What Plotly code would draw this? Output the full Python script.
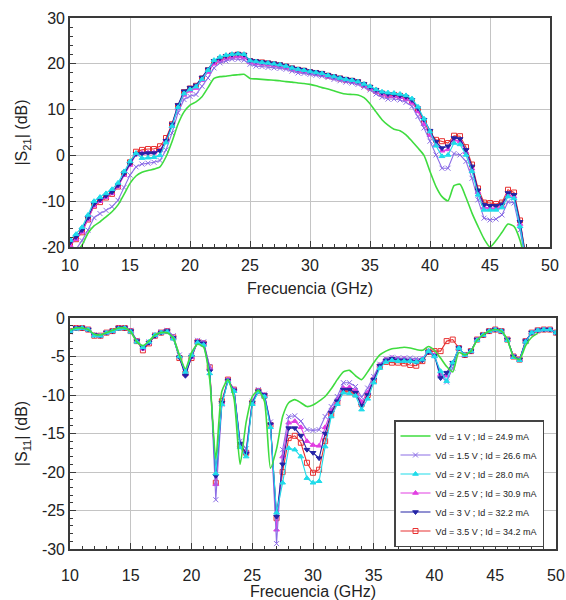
import plotly.graph_objects as go

# colours
green_col = "#3fdc3f"
purple_col = "#8c6ee6"
cyan_col = "#1fdcea"
magenta_col = "#e23ee2"
blue_col = "#2424a6"
red_col = "#e83232"

labels = [
    "Vd = 1 V ; Id = 24.9 mA",
    "Vd = 1.5 V ; Id = 26.6 mA",
    "Vd = 2 V ; Id = 28.0 mA",
    "Vd = 2.5 V ; Id = 30.9 mA",
    "Vd = 3 V ; Id = 32.2 mA",
    "Vd = 3.5 V ; Id = 34.2 mA",
]

# |S21| (dB), 10 - 48 GHz
freq_s21 = [
    10, 10.5, 11, 11.5, 12, 12.5, 13, 13.5, 14, 14.5,
    15, 15.5, 16, 16.5, 17, 17.5, 18, 18.5, 19, 19.5,
    20, 20.5, 21, 21.5, 22, 22.5, 23, 23.5, 24, 24.5,
    25, 25.5, 26, 26.5, 27, 27.5, 28, 28.5, 29, 29.5,
    30, 30.5, 31, 31.5, 32, 32.5, 33, 33.5, 34, 34.5,
    35, 35.5, 36, 36.5, 37, 37.5, 38, 38.5, 39, 39.5,
    40, 40.5, 41, 41.5, 42, 42.5, 43, 43.5, 44, 44.5,
    45, 45.5, 46, 46.5, 47, 47.5, 48,
]
s21_1v = [
    -24.0, -21.5, -19.6, -17.0, -15.4, -14.5, -13.4, -12.3, -10.8, -8.5,
    -6.1, -4.5, -3.7, -3.3, -3.0, -2.5, -0.3, 3.0, 6.8, 9.5,
    11.0, 11.7, 12.8, 14.8, 16.8, 17.2, 17.3, 17.5, 17.6, 17.7,
    16.8, 16.7, 16.6, 16.5, 16.4, 16.3, 16.1, 16.0, 15.8, 15.7,
    15.5, 15.2, 14.8, 14.5, 14.1, 13.7, 13.4, 13.3, 13.2, 12.6,
    11.3, 9.5, 7.8, 6.6, 5.7, 5.4, 4.5, 3.1, 1.6, 0.0,
    -3.5, -6.8, -9.0, -9.9, -6.6, -6.3, -9.2, -12.6, -15.5, -18.2,
    -20.0, -18.6, -16.8, -15.0, -15.5, -18.5, -24.0,
]
s21_15v = [
    -22.0, -20.5, -18.6, -16.3, -13.6, -12.7, -12.0, -11.2, -9.8, -7.0,
    -4.3, -2.5, -1.9, -1.7, -1.5, -1.1, 1.2, 4.9, 9.3, 12.2,
    12.9, 13.3, 15.1, 16.9, 19.1, 20.2, 20.6, 21.0, 21.0, 20.8,
    19.9, 19.5, 19.4, 19.2, 19.1, 19.0, 18.8, 18.4, 18.0, 17.9,
    17.7, 17.5, 17.3, 17.0, 16.6, 16.3, 16.0, 15.8, 15.5, 14.9,
    14.3, 13.4, 12.7, 12.3, 12.3, 12.1, 11.6, 10.7, 8.5, 6.0,
    3.1, 0.1, -2.8, -2.8, 0.4, 0.1, -1.3, -5.0, -9.7, -13.7,
    -14.1, -13.9, -13.0, -10.1, -10.4, -16.3, -23.5,
]
s21_2v = [
    -18.5, -17.2, -15.7, -13.0, -10.0, -9.1, -8.3, -7.4, -6.0, -3.5,
    -1.3, 0.5, -0.6, -0.5, -0.4, 0.0, 2.8, 6.4, 10.5, 13.5,
    14.4, 15.0, 16.6, 18.6, 20.8, 21.5, 21.9, 22.1, 22.2, 22.1,
    20.7, 20.5, 20.3, 20.2, 20.0, 19.8, 19.5, 19.1, 18.8, 18.6,
    18.3, 18.1, 17.9, 17.5, 17.2, 16.9, 16.6, 16.4, 16.1, 15.6,
    15.1, 14.4, 13.9, 13.7, 13.6, 13.4, 13.1, 12.4, 10.6, 8.0,
    5.2, 2.1, -0.2, 0.1, 2.7, 2.4, 0.1, -3.5, -8.6, -11.9,
    -11.9, -11.9, -11.4, -9.0, -9.4, -15.5, -23.0,
]
s21_25v = [
    -19.6, -18.3, -16.7, -14.0, -11.0, -10.0, -9.1, -8.3, -6.8, -4.3,
    -2.1, 0.2, 0.5, 0.6, 0.6, 1.1, 3.2, 6.4, 10.3, 13.2,
    14.1, 14.7, 16.4, 18.2, 20.0, 20.6, 21.1, 21.4, 21.6, 21.4,
    20.3, 20.1, 20.0, 19.9, 19.7, 19.5, 19.2, 18.8, 18.5, 18.3,
    18.0, 17.8, 17.6, 17.2, 16.9, 16.6, 16.3, 16.1, 15.8, 15.2,
    14.6, 13.9, 13.3, 13.0, 12.9, 12.7, 12.3, 11.5, 9.6, 6.8,
    4.4, 2.4, 1.0, 1.3, 3.4, 3.1, 0.7, -2.9, -8.0, -11.3,
    -11.5, -11.5, -11.1, -8.6, -9.0, -15.0, -22.8,
]
s21_3v = [
    -19.0, -17.8, -16.3, -13.6, -10.6, -9.7, -8.8, -8.0, -6.5, -4.0,
    -1.8, 0.3, 0.4, 0.5, 0.5, 1.0, 3.2, 6.8, 11.0, 14.0,
    14.8, 15.3, 17.0, 18.8, 20.6, 21.2, 21.7, 22.0, 22.2, 22.0,
    20.8, 20.6, 20.4, 20.3, 20.1, 19.9, 19.6, 19.2, 18.9, 18.7,
    18.4, 18.2, 18.0, 17.6, 17.3, 17.0, 16.7, 16.5, 16.2, 15.6,
    15.0, 14.3, 13.7, 13.4, 13.3, 13.1, 12.8, 12.1, 10.3, 7.8,
    5.4, 3.0, 1.6, 2.0, 3.8, 3.6, 1.2, -2.4, -7.6, -10.8,
    -11.0, -11.0, -10.7, -8.2, -8.6, -14.5, -22.5,
]
s21_35v = [
    -19.5, -18.3, -16.8, -14.0, -11.0, -10.2, -9.2, -8.4, -6.8, -4.0,
    -1.5, 0.8, 1.2, 1.4, 1.4, 2.0, 3.8, 6.8, 10.8, 13.8,
    14.6, 15.2, 16.8, 18.6, 20.4, 21.0, 21.5, 21.8, 22.0, 21.8,
    20.6, 20.4, 20.3, 20.1, 19.9, 19.7, 19.4, 19.0, 18.7, 18.5,
    18.2, 18.0, 17.8, 17.4, 17.1, 16.8, 16.5, 16.3, 16.0, 15.4,
    14.8, 14.1, 13.5, 13.2, 13.2, 13.0, 12.6, 11.8, 10.0, 7.3,
    5.0, 3.4, 3.1, 2.7, 4.3, 4.2, 1.8, -2.0, -7.2, -10.3,
    -10.4, -10.6, -10.3, -7.5, -8.1, -14.2, -22.3,
]

# |S11| (dB), 10 - 50 GHz
freq_s11 = [
    10, 10.5, 11, 11.5, 12, 12.5, 13, 13.5, 14, 14.5,
    15, 15.5, 16, 16.5, 17, 17.5, 18, 18.5, 19, 19.5,
    20, 20.5, 21, 21.5, 22, 22.5, 23, 23.5, 24, 24.5,
    25, 25.5, 26, 26.5, 27, 27.5, 28, 28.5, 29, 29.5,
    30, 30.5, 31, 31.5, 32, 32.5, 33, 33.5, 34, 34.5,
    35, 35.5, 36, 36.5, 37, 37.5, 38, 38.5, 39, 39.5,
    40, 40.5, 41, 41.5, 42, 42.5, 43, 43.5, 44, 44.5,
    45, 45.5, 46, 46.5, 47, 47.5, 48, 48.5, 49, 49.5,
    50,
]
s11_1v = [
    -1.6, -1.3, -1.3, -1.5, -2.1, -2.2, -1.9, -1.6, -1.3, -1.3,
    -1.8, -3.1, -3.6, -3.0, -2.2, -1.9, -1.9, -2.6, -4.8, -6.6,
    -4.5, -3.4, -3.8, -8.0, -18.3, -9.5, -8.0, -10.5, -19.0, -13.5,
    -10.2, -9.4, -10.8, -19.5, -17.0, -12.8, -11.0, -10.6, -11.0, -11.5,
    -11.3, -10.8, -10.2, -9.2, -8.0, -7.0, -6.8, -7.5, -8.0, -7.0,
    -5.8, -4.8, -4.3, -4.0, -3.9, -3.8, -3.9, -4.1, -4.2, -3.7,
    -4.2, -5.2, -6.3, -7.0, -4.5, -4.8, -4.3, -2.9, -2.2, -1.7,
    -1.5, -1.7, -2.8, -5.0, -5.4, -3.6, -2.5, -2.0,
]
s11_15v = [
    -1.8, -1.4, -1.3, -1.5, -2.2, -2.3, -1.9, -1.7, -1.3, -1.3,
    -1.6, -2.9, -3.8, -3.1, -2.2, -1.8, -1.6, -2.3, -4.8, -7.0,
    -4.9, -2.9, -3.1, -6.3, -23.6, -11.2, -8.1, -9.3, -16.0, -17.0,
    -10.8, -9.3, -9.9, -13.5, -29.3, -17.1, -12.8, -12.7, -13.4, -14.5,
    -14.6, -14.5, -12.8, -11.5, -10.2, -8.4, -8.4, -8.9, -10.3, -9.1,
    -7.6, -6.0, -5.3, -5.1, -5.2, -5.2, -5.2, -5.3, -5.3, -4.2,
    -4.8, -7.5, -8.3, -6.5, -3.9, -4.8, -4.3, -2.8, -2.2, -1.7,
    -1.5, -1.7, -2.8, -5.0, -5.4, -3.0, -1.9, -1.6, -1.5, -1.5,
    -1.9,
]
s11_2v = [
    -1.7, -1.4, -1.3, -1.5, -2.3, -2.3, -1.9, -1.7, -1.4, -1.3,
    -1.8, -3.1, -3.8, -3.1, -2.2, -1.9, -1.8, -2.7, -5.0, -7.0,
    -4.8, -3.2, -3.5, -7.2, -20.2, -11.2, -8.2, -9.5, -16.8, -18.0,
    -11.2, -9.6, -10.2, -14.2, -25.3, -21.4, -16.9, -17.1, -18.0, -20.8,
    -21.4, -21.2, -16.7, -12.8, -11.2, -9.7, -9.8, -10.1, -11.9, -10.5,
    -8.4, -6.5, -5.7, -5.5, -5.6, -5.6, -5.6, -5.7, -5.4, -4.3,
    -5.0, -6.9, -8.2, -5.8, -3.9, -4.8, -4.3, -2.9, -2.2, -1.7,
    -1.5, -1.7, -2.9, -5.1, -5.5, -3.1, -1.9, -1.6, -1.5, -1.5,
    -1.9,
]
s11_25v = [
    -1.7, -1.3, -1.3, -1.5, -2.2, -2.3, -1.9, -1.7, -1.3, -1.3,
    -1.7, -3.0, -4.0, -3.2, -2.3, -1.9, -1.7, -2.5, -5.0, -7.3,
    -5.1, -3.0, -3.2, -6.5, -21.6, -11.0, -8.0, -9.3, -16.5, -17.4,
    -10.9, -9.4, -10.0, -13.7, -27.5, -18.0, -13.6, -13.4, -14.2, -16.0,
    -16.5, -16.6, -14.2, -12.0, -10.6, -9.1, -9.0, -9.4, -10.9, -9.7,
    -7.8, -6.1, -5.4, -5.2, -5.3, -5.3, -5.4, -5.5, -5.3, -4.3,
    -4.8, -7.3, -7.5, -5.9, -3.9, -4.8, -4.3, -2.8, -2.2, -1.7,
    -1.5, -1.7, -2.8, -5.0, -5.4, -3.0, -1.9, -1.6, -1.5, -1.5,
    -1.9,
]
s11_3v = [
    -1.7, -1.3, -1.3, -1.5, -2.2, -2.3, -1.9, -1.7, -1.3, -1.3,
    -1.7, -3.0, -3.9, -3.2, -2.3, -1.9, -1.7, -2.6, -5.1, -7.5,
    -5.0, -3.1, -3.3, -6.9, -20.5, -11.0, -8.1, -9.4, -16.3, -17.6,
    -11.0, -9.5, -10.0, -13.8, -25.8, -19.0, -14.3, -14.3, -15.3, -17.1,
    -17.5, -18.2, -15.0, -12.3, -10.8, -9.3, -9.3, -9.7, -11.4, -10.0,
    -8.0, -6.2, -5.5, -5.3, -5.5, -5.5, -5.6, -5.7, -5.5, -4.4,
    -4.9, -7.8, -7.1, -5.8, -3.9, -4.8, -4.3, -2.8, -2.2, -1.7,
    -1.5, -1.7, -2.8, -5.0, -5.4, -3.0, -1.9, -1.6, -1.5, -1.5,
    -1.9,
]
s11_35v = [
    -1.7, -1.3, -1.3, -1.5, -2.3, -2.3, -1.9, -1.7, -1.3, -1.3,
    -1.7, -3.0, -4.2, -3.3, -2.3, -1.9, -1.7, -2.5, -5.2, -7.2,
    -5.2, -3.1, -3.3, -6.4, -21.4, -10.8, -8.0, -9.3, -16.6, -17.5,
    -11.0, -9.5, -10.1, -13.9, -26.0, -20.0, -15.6, -15.3, -16.2, -18.8,
    -20.1, -19.7, -16.0, -12.5, -11.0, -9.5, -9.5, -9.9, -11.2, -10.0,
    -8.1, -6.3, -5.7, -5.8, -5.8, -5.9, -6.1, -6.2, -5.6, -4.4,
    -4.3, -4.3, -3.0, -2.8, -3.9, -4.8, -4.3, -2.8, -2.2, -1.7,
    -1.5, -1.7, -2.8, -5.0, -5.4, -3.0, -1.9, -1.6, -1.5, -1.5,
    -1.9,
]

s21_ticks = [-20, -10, 0, 10, 20, 30]
s11_ticks = [-30, -25, -20, -15, -10, -5, 0]
freq_ticks = [10, 15, 20, 25, 30, 35, 40, 45, 50]

# one style per bias point: colour, marker symbol, marker size
styles = [
    (green_col, None, 0),
    (purple_col, "x-thin-open", 5),
    (cyan_col, "triangle-up", 5),
    (magenta_col, "triangle-up", 5),
    (blue_col, "triangle-down", 5),
    (red_col, "square-open", 5),
]

# drawing order (green last, it sits on top in the original), legend keeps 1 V .. 3.5 V
draw_order = [5, 3, 1, 4, 2, 0]


def add_series(fig, x, y, i, xaxis, yaxis, show):
    col, sym, size = styles[i]
    if sym is None:
        fig.add_trace(
            go.Scatter(
                x=x, y=y, mode="lines", name=labels[i], legendrank=i + 1,
                line=dict(color=col, width=1.6, shape="spline", smoothing=0.6),
                xaxis=xaxis, yaxis=yaxis, showlegend=show,
            )
        )
    else:
        fig.add_trace(
            go.Scatter(
                x=x, y=y, mode="lines+markers", name=labels[i], legendrank=i + 1,
                line=dict(color=col, width=1.1),
                marker=dict(symbol=sym, size=size, color=col,
                            line=dict(color=col, width=1)),
                xaxis=xaxis, yaxis=yaxis, showlegend=show,
            )
        )


fig = go.Figure()

s21_series = [s21_1v, s21_15v, s21_2v, s21_25v, s21_3v, s21_35v]
s11_series = [s11_1v, s11_15v, s11_2v, s11_25v, s11_3v, s11_35v]

for i in draw_order:
    add_series(fig, freq_s21, s21_series[i], i, "x", "y", False)

for i in draw_order:
    y = s11_series[i]
    add_series(fig, freq_s11[: len(y)], y, i, "x2", "y2", True)

font_family = "Liberation Sans, Arial, sans-serif"
text_col = "#222222"
grid_col = "#c4c4c4"
axis_col = "#3a3a3a"


def x_axis(domain, anchor, label_gap, title_gap):
    return dict(
        domain=domain,
        anchor=anchor,
        range=[10, 50],
        tickvals=freq_ticks,
        ticktext=[str(v) for v in freq_ticks],
        ticks="inside",
        ticklen=6,
        tickwidth=1.2,
        tickcolor=axis_col,
        ticklabelstandoff=label_gap,
        minor=dict(dtick=1, ticks="inside", ticklen=3, tickcolor=axis_col, showgrid=False),
        showgrid=True,
        gridcolor=grid_col,
        gridwidth=1.4,
        showline=True,
        linecolor=axis_col,
        linewidth=1.6,
        mirror=True,
        zeroline=False,
        automargin=False,
        tickfont=dict(size=16, color=text_col),
        title=dict(text="Frecuencia (GHz)", font=dict(size=16), standoff=title_gap),
    )


def y_axis(domain, anchor, rng, ticks, minor_step, title):
    return dict(
        domain=domain,
        anchor=anchor,
        range=rng,
        tickvals=ticks,
        ticktext=[str(v) for v in ticks],
        ticks="inside",
        ticklen=6,
        tickwidth=1.2,
        tickcolor=axis_col,
        minor=dict(dtick=minor_step, ticks="inside", ticklen=3, tickcolor=axis_col, showgrid=False),
        showgrid=True,
        gridcolor=grid_col,
        gridwidth=1.4,
        showline=True,
        linecolor=axis_col,
        linewidth=1.6,
        mirror=True,
        zeroline=False,
        automargin=False,
        tickfont=dict(size=16, color=text_col),
        title=dict(text=title, font=dict(size=16), standoff=10),
    )


fig.update_layout(
    width=566,
    height=600,
    margin=dict(l=0, r=0, t=0, b=0),
    paper_bgcolor="white",
    plot_bgcolor="white",
    font=dict(family=font_family, color=text_col),
    xaxis=x_axis([70 / 566, 550 / 566], "y", 3, 10),
    yaxis=y_axis([353 / 600, 582 / 600], "x", [-20, 30], s21_ticks, 2, "|S<sub>21</sub>| (dB)"),
    xaxis2=x_axis([70 / 566, 556 / 566], "y2", 11, 5),
    yaxis2=y_axis([51 / 600, 282 / 600], "x2", [-30, 0], s11_ticks, 1, "|S<sub>11</sub>| (dB)"),
    legend=dict(
        x=394 / 566,
        y=180 / 600,
        xanchor="left",
        yanchor="top",
        bgcolor="white",
        bordercolor="#444444",
        borderwidth=1.5,
        font=dict(size=9, color=text_col),
        tracegroupgap=0,
        entrywidth=122,
    ),
)

fig.write_html(
    "out.html",
    config={"displayModeBar": False},
    post_script="document.body.style.margin = '0';",
)
